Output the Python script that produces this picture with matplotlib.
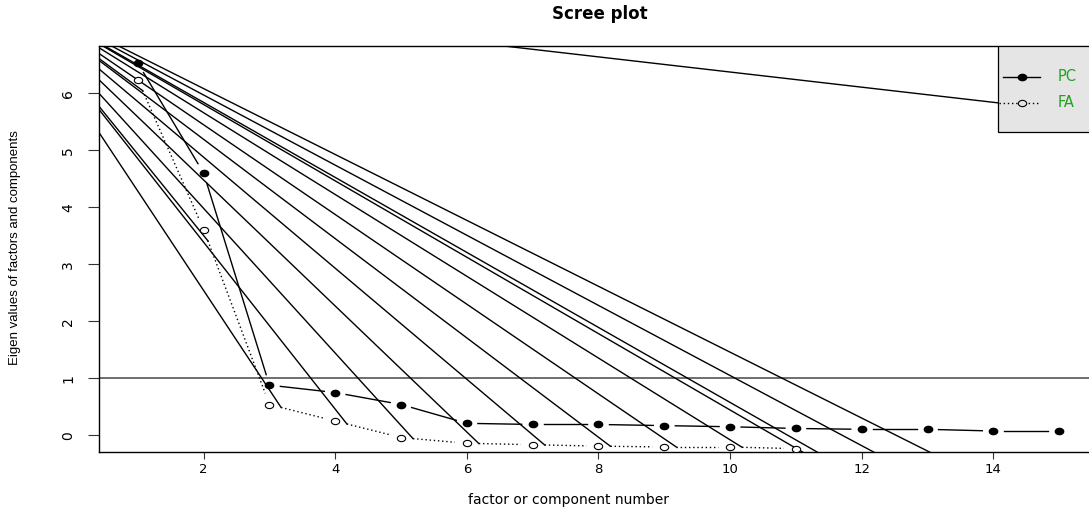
import numpy as np
import matplotlib
matplotlib.use('Agg')
import matplotlib.pyplot as plt
from matplotlib.path import Path
from matplotlib.patches import Rectangle

# eigen values
components = list(range(1, 16))
pc_values = [6.53, 4.60, 0.88, 0.75, 0.54, 0.21, 0.19, 0.19, 0.17, 0.15,
             0.12, 0.105, 0.105, 0.075, 0.075]
fa_values = [6.24, 3.61, 0.54, 0.25, -0.04, -0.14, -0.165, -0.19, -0.205,
             -0.205, -0.235, -0.85, -0.90, -0.95, -1.00]
x_ticks = [2, 4, 6, 8, 10, 12, 14]
y_ticks = [0, 1, 2, 3, 4, 5, 6]
legend_labels = ['PC', 'FA']

# the stray lines in the picture all start from one point off the plot
stray_origin = (-1.04, 7.84)

GREEN = '#22a022'


def ellipse_marker():
    """Circle squashed vertically, like the stretched reference."""
    circ = Path.unit_circle()
    return Path(circ.vertices * np.array([1.0, 0.75]), circ.codes)


def gapped_segments(ax, xs, ys, gap):
    """Segments between points with a gap round each point (R type='b')."""
    pts = ax.transData.transform(np.column_stack([xs, ys]))
    inv = ax.transData.inverted()
    segs = []
    for p, q in zip(pts[:-1], pts[1:]):
        d = q - p
        n = np.hypot(d[0], d[1])
        u = d / n
        segs.append(inv.transform(np.array([p + u * gap, q - u * gap])))
    return segs


def main():
    fig = plt.figure(figsize=(10.89, 5.12), dpi=100)
    ax = fig.add_axes([99 / 1089, 60 / 512, 997 / 1089, 406 / 512])
    ax.set_xlim(0.41, 15.56)
    ax.set_ylim(-0.293, 6.83)

    mk = ellipse_marker()
    msize = 6

    # y = 1 reference line
    ax.axhline(1, color='#555555', lw=1.2, zorder=1)

    # PC: solid with filled points
    for s in gapped_segments(ax, components, pc_values, 11):
        ax.plot(s[:, 0], s[:, 1], color='black', lw=1, zorder=2)
    ax.plot(components, pc_values, linestyle='none', marker=mk,
            markersize=msize, color='black', zorder=3)

    # FA: dotted with open points
    fa_segs = gapped_segments(ax, components, fa_values, 12)
    for s in fa_segs:
        ax.plot(s[:, 0], s[:, 1], color='black', lw=1,
                linestyle=(0, (1, 2)), zorder=2)
    ax.plot(components, fa_values, linestyle='none', marker=mk,
            markersize=msize, markerfacecolor='white',
            markeredgecolor='black', markeredgewidth=0.8, zorder=3)

    # legend, top right, drawn by hand
    lx0, ly0, ly1 = 14.07, 5.32, 6.83
    ax.add_patch(Rectangle((lx0, ly0), 2.0, ly1 - ly0, facecolor='#e5e5e5',
                           edgecolor='black', lw=0.9, zorder=4))
    row_y = [6.29, 5.83]
    ax.plot([14.15, 14.71], [row_y[0]] * 2, color='black', lw=1, zorder=5)
    ax.plot([14.43], [row_y[0]], marker=mk, markersize=msize, color='black',
            zorder=6)
    ax.plot([14.09, 14.71], [row_y[1]] * 2, color='black', lw=1,
            linestyle=(0, (1, 2)), zorder=5)
    ax.plot([14.43], [row_y[1]], marker=mk, markersize=msize,
            markerfacecolor='#e5e5e5', markeredgecolor='black',
            markeredgewidth=0.8, zorder=6)
    for lab, y in zip(legend_labels, row_y):
        ax.text(14.98, y, lab, color=GREEN, fontsize=10.5, va='center',
                ha='left', family='DejaVu Sans', zorder=6)

    # stray lines from the off-plot point to each dotted segment start
    ends = [s[0] for s in fa_segs] + [(14.09, row_y[1])]
    for e in ends:
        ax.plot([stray_origin[0], e[0]], [stray_origin[1], e[1]],
                color='black', lw=1, zorder=2)

    ax.set_xticks(x_ticks)
    ax.set_yticks(y_ticks)
    ax.tick_params(axis='x', length=5, width=0.8, pad=3, labelsize=9.5,
                   color='#333333')
    ax.tick_params(axis='y', length=8, width=0.8, pad=9, labelsize=10,
                   color='#333333', labelrotation=90)
    for lab in ax.get_yticklabels():
        lab.set_va('center')
    for sp in ax.spines.values():
        sp.set_linewidth(1.0)

    fig.text(600 / 1089, 1 - 14 / 512, 'Scree plot', ha='center',
             va='center', fontsize=12, fontweight='bold',
             family='DejaVu Sans')
    fig.text(569 / 1089, 1 - 500 / 512, 'factor or component number',
             ha='center', va='center', fontsize=10, family='DejaVu Sans')
    fig.text(15 / 1089, 1 - 248 / 512,
             'Eigen values of factors and components', rotation=90,
             ha='center', va='center', fontsize=9.5,
             family='Liberation Sans')

    fig.savefig('out.png', dpi=100)


if __name__ == '__main__':
    main()
